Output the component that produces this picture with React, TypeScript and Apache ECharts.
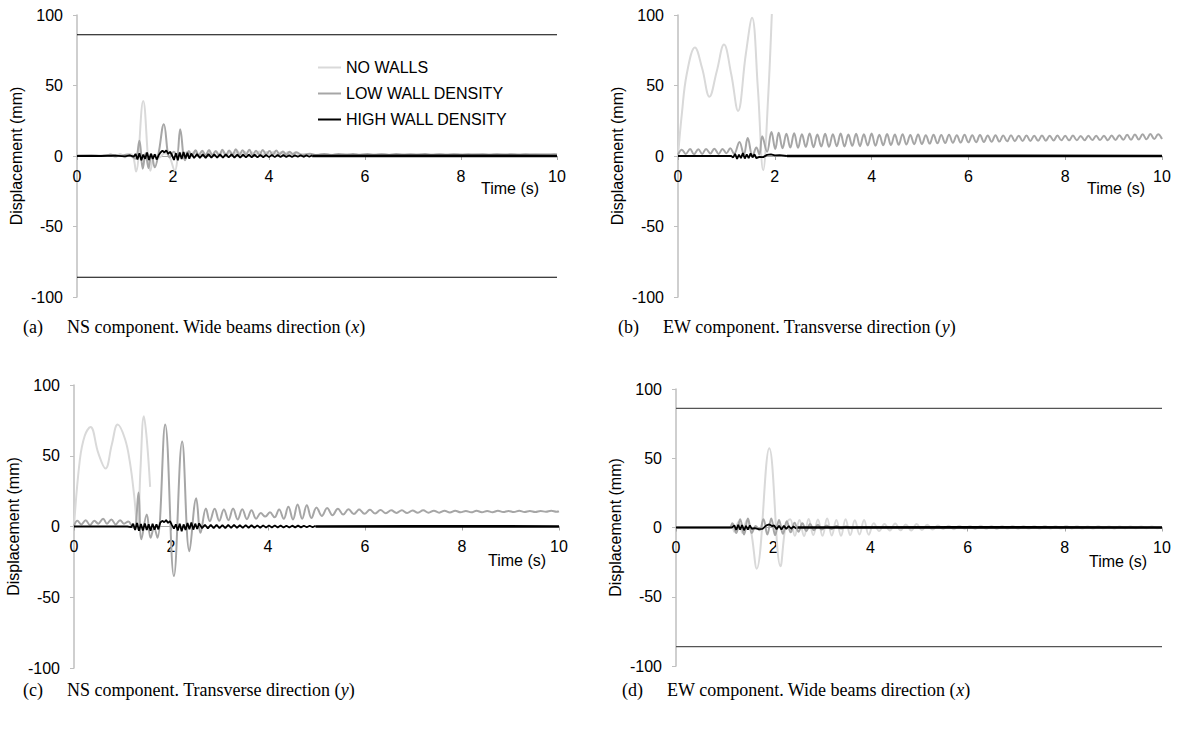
import React, { useEffect, useRef } from 'react';
import * as echarts from 'echarts';

type P = [number, number];
// sampled segment: values read at a fixed time step starting at t0
const seq = (t0: number, dt: number, vals: number[]): P[] =>
  vals.map((v, i) => [Math.round((t0 + i * dt) * 1000) / 1000, v] as P);

const SERIES_NAMES = ['NO WALLS', 'LOW WALL DENSITY', 'HIGH WALL DENSITY'];
const COLORS = ['#d9d9d9', '#a6a6a6', '#000000'];
const LIMIT = 86;

// ---------- Panel (a) ----------
const A_NO_PEAKS: P[] = [[0,0],[0.6,0],[0.7,1.2],[0.8,-0.8],[0.9,1.5],[1.0,-1],[1.1,1.5],[1.17,-0.5],[1.23,-11],[1.38,39],[1.53,-10.4],[1.62,1],[1.72,-1],[1.82,2],[1.92,0],[2.04,-10.4],[2.14,2.5]];
const A_NO_OSC = [0.5,3,0.3,3.2,0.5,2.8,0.8,3.5,0.4,3.0,0.6,3.3,0.7,2.9,0.5,3.4,0.8,3.1,0.6,2.7,0.9,3.2,0.7,2.8,1.0,3.0,0.8,2.6,1.0,2.9,1.1,2.4,1.2];
const A_NO_TAIL = [1.5,0.7,1.4,0.8,1.5,0.7,1.3,0.9,1.4,0.8,1.3,0.9,1.4,0.8,1.3,1.0,1.4,0.9,1.3,1.0,1.4,0.9,1.2,1.0,1.2,1.0,1.2];
const A_LOW_PEAKS: P[] = [[0,0.3],[0.3,0.6],[0.5,0.2],[0.7,0.9],[0.9,0.1],[1.05,1.0],[1.15,-0.5],[1.22,-2],[1.30,10.9],[1.37,-9],[1.43,2],[1.49,-8.5],[1.55,1.5],[1.62,-8],[1.70,2],[1.81,22.5],[1.93,-1],[2.02,3],[2.08,0],[2.15,19],[2.25,-3]];
const A_LOW_OSC = [3.5,0,4,0.5,3.8,0.2,4.2,0.8,3.6,0.5,4.5,0.3,3.9,0.8,4.8,0.6,4.0,1.0,4.4,0.5,3.7,0.9,4.2,1.1,3.5,0.8,3.9,1.2,3.2,0.9,3.0,1.3,2.6];
const A_LOW_TAIL = [0.6,1.6,0.7,1.5,0.6,1.4,0.8,1.5,0.7,1.4,0.8,1.3,0.7,1.4,0.9,1.3,0.8,1.4,0.9,1.2,0.8,1.3,0.9,1.2,1.0,1.3,0.9,1.2,1.0,1.3,0.9,1.2,1.0,1.1,1.0,1.2];
const A_HIGH_PEAKS: P[] = [[0,0],[0.5,0],[0.8,0.3],[1.0,-0.3],[1.1,0.4],[1.18,-0.5]];
const A_HIGH_JIT = [1.5,-2.5,2,-3,1,-2,2.5,-2.8,1.5,-2,1.2,-2.5,0.5,2.5,3.8,2.5,4,1.5,3,0.5,-2.8,2,-3,2.5,-2.2,2.8,-1.8,2.2,-2.0,1.8];
const A_HIGH_JIT2 = [-1.4,1.3,-1.3,1.2,-1.3,1.3,-1.2,1.1,-1.2,1.2,-1.1,1.2,-1.0,1.1,-1.1,1.0,-1.1,1.0,-1.0,1.0,-0.9,0.9,-1.0,0.8,-0.9,0.8,-0.8,0.8,-0.8,0.7,-0.7,0.7,-0.7,0.6,-0.7,0.6,-0.6,0.6,-0.6,0.5,-0.5,0.5];
const A_HIGH_QUIET: P[] = [[4.9,0],[7,0.1],[10,0]];

// ---------- Panel (b) ----------
const B_NO: P[] = [[0,0],[0.08,30],[0.18,58],[0.35,77],[0.5,62],[0.65,42],[0.8,60],[0.95,79],[1.1,58],[1.24,32],[1.4,72],[1.53,98],[1.65,48],[1.76,-10],[1.86,40],[1.95,110],[2.02,170]];
const B_LOW_PEAKS: P[] = [[0,1],[0.08,4.5],[0.16,1.5],[0.25,5],[0.33,1.2],[0.42,4.8],[0.5,1.5],[0.58,5],[0.67,1.8],[0.75,5.2],[0.84,1.5],[0.92,5],[1.0,2],[1.08,5.5],[1.16,1.5],[1.27,10],[1.36,1],[1.44,12.7],[1.54,0],[1.62,6],[1.68,1],[1.74,14],[1.84,3],[1.93,17],[2.01,5]];
const B_LOW_OSC = [
  16.5,5.5,15.8,6,16.2,5.8,15.5,6.5,16,6.2,15.2,6.8,15.8,6.5,
  15.5,7,16,6.8,15.2,7.2,15.8,7,15.4,7.5,15.9,7.2,15.1,7.6,
  15.6,7.8,15.2,8,15.5,8.2,14.9,8.4,15.3,8.5,14.8,8.8,15.1,9,
  14.9,9.2,15.1,9.4,14.8,9.5,15,9.7,14.7,9.8,14.9,10,14.6,10.1,
  14.8,10.2,14.5,10.4,14.7,10.5,14.4,10.6,14.6,10.7,14.4,10.8,14.6,10.9,
  14.3,11,14.5,11.1,14.3,11.1,14.5,11.2,14.2,11.2,14.4,11.3,14.3,11.3,
  14.4,11.2,14.6,11.4,14.8,11.5,15.0,11.5,15.3,11.7,15.4,11.8,15.6,12.0,
  15.5,12.1
];
const B_HIGH_PEAKS: P[] = [[0,0],[1.1,0]];
const B_HIGH_JIT = [-1,1.5,-2,1,-1.5,2,-1.8,1.2,-1.5,1.8,-1,1.2,-1.6];
const B_HIGH_MID: P[] = [[1.68,-0.6],[1.76,-0.8],[1.84,0.8],[1.92,1.2],[2.0,0.4],[2.1,0.6],[2.25,0]];
const B_HIGH_QUIET: P[] = [[2.25,0],[6,0.1],[10,0]];

// ---------- Panel (c) ----------
const C_NO: P[] = [[0,0],[0.12,47],[0.22,64],[0.34,70.4],[0.5,52],[0.65,41],[0.78,58],[0.9,72],[1.05,62],[1.15,46],[1.24,22],[1.31,-2],[1.37,40],[1.44,78],[1.5,62],[1.57,28]];
const C_LOW_PEAKS: P[] = [[0,0.5],[0.07,4],[0.15,1.5],[0.24,4.5],[0.33,1],[0.42,4],[0.5,2],[0.6,5.5],[0.68,2],[0.77,5],[0.86,1.5],[0.95,4.5],[1.03,2],[1.12,3.5],[1.2,0],[1.25,-1],[1.33,24],[1.39,-9],[1.50,8.5],[1.58,-8],[1.65,-1],[1.72,-8],[1.88,72],[2.06,-35],[2.23,60],[2.38,-17.5],[2.52,20],[2.61,-4.5],[2.72,12.8],[2.80,3.8]];
const C_LOW_OSC1 = [12.5,4,12,4.5,12.8,5,12.2,5.2,11.5,5.5,9.5,7,10,6.5,12,5.5,14,5,15.6,5.5,15,6];
const C_LOW_OSC2 = [13.5,7.5,13,8,12.6,8.4,12.2,8.8,12,9,11.8,9.2,11.6,9.4,11.4,9.6,11.5,9.5,11.3,9.7,11.4,9.8,11.2,9.8,11.1,9.9,11.2,10,11,10,11.1,10.1,11,10.1,11.1,10.2,11,10.2,11.1,10.3,11,10.3,11,10.4,11.1,10.4];
const C_HIGH_PEAKS: P[] = [[0,0],[1.1,0],[1.18,-0.5]];
const C_HIGH_JIT = [2,-2.5,2.5,-3,1.8,-2.8,2.2,-2.5,1.5,-3,2,-2.2,1.5,-2,2.8,4,3,4.5,2.5,3.8,1,-1.5,1.5,-2.8,2,-3.3,1.5,-2.5,2.5,-2,2.8,-2.2,2,-1.8,2.2];
const C_HIGH_JIT2 = [-1.2,1.2,-1.3,1.1,-1.2,1.2,-1.1,1.0,-1.2,1.1,-1.0,1.1,-1.0,0.9,-1.0,1.0,-0.9,0.9,-0.9,0.8,-0.9,0.8,-0.8,0.8,-0.7,0.8,-0.7,0.7,-0.7,0.6,-0.7,0.6,-0.6,0.6,-0.6,0.5,-0.5,0.5,-0.5,0.5];
const C_HIGH_QUIET: P[] = [[4.98,0],[7,0.1],[10,0]];

// ---------- Panel (d) ----------
const D_NO_PEAKS: P[] = [[0,0],[1.15,0]];
const D_NO_JIT = [-3,4,-4,5,-2];
const D_NO_BIG: P[] = [[1.66,-29.7],[1.92,57.3],[2.15,-28],[2.26,2]];
const D_NO_OSC1 = [6,-6,5.5,-6.2,6.2,-5.5,5.8,-6,6.5,-5.8,5.5,-6,6,-5.5,5.2,-5,5.5,-5.2];
const D_NO_OSC2 = [3,-2.5,2.5,-2.2,2.8,-2,2.2,-2.2,2.5,-1.8,2,-1.5];
const D_NO_OSC3 = [1.4,-1,1.2,-1.2,1.3,-0.9,1.1,-1,1.2,-0.9,1.0,-1,1.1,-0.8,1.0,-0.9,1.1,-0.8,0.9,-0.8,1.0,-0.7,0.9,-0.8,1.0,-0.7,0.9,-0.7,0.8,-0.7,0.9,-0.6,0.8,-0.7,0.8,-0.6,0.7,-0.6,0.8,-0.5,0.7,-0.5];
const D_LOW: P[] = [[0,0],[1.1,0],[1.16,3],[1.24,-4],[1.32,6],[1.4,-5],[1.48,6.5],[1.56,-4],[1.64,1],[1.72,-2],[1.8,6],[1.88,-5],[1.96,6.5],[2.04,-5.5],[2.12,5.5],[2.2,-4.5],[2.28,4.5],[2.36,-3.5],[2.44,3.5],[2.52,-3],[2.6,3],[2.68,-2.5],[2.76,2.5],[2.84,-2],[2.92,2],[3.0,-1.5],[3.1,1.5],[3.2,-1.2],[3.3,1],[3.4,-0.8],[3.5,0.8],[3.6,-0.5],[3.8,0],[10,0]];
const D_HIGH_PEAKS: P[] = [[0,0],[1.15,0]];
const D_HIGH_JIT = [1.5,-1.8,2,-1.5,1.8,-2,1.2,-1.5,1.5,-1];
const D_HIGH_MID: P[] = [[1.62,-0.5],[1.7,-1.2],[1.78,-1],[1.86,1.5],[1.92,2.2],[1.98,1]];
const D_HIGH_JIT2 = [1.5,-1.2,1.3,-1.5,1.2,-1,1.1,-0.9,0.8,-0.8];
const D_HIGH_QUIET: P[] = [[2.5,0],[6,0.1],[10,0]];

const CAPTIONS = [
  ['(a)', 'NS component. Wide beams direction (', 'x', ')'],
  ['(b)', 'EW component. Transverse direction (', 'y', ')'],
  ['(c)', 'NS component. Transverse direction (', 'y', ')'],
  ['(d)', 'EW component. Wide beams direction (', 'x', ')'],
];

const GRIDS = [
  { left: 77, top: 15, width: 480, height: 282 },
  { left: 678, top: 15, width: 484, height: 282 },
  { left: 74, top: 385, width: 485, height: 283 },
  { left: 676, top: 389, width: 486, height: 277 },
];
const CAPTION_POS = [[23, 67, 327], [618, 663, 327], [23, 67, 690], [622, 667, 690]];
const TIME_POS = [[510, 188], [1116, 188], [517, 560], [1118, 561]];

const SANS = '"Liberation Sans", Arial, sans-serif';
const SERIF = '"Liberation Serif", "Times New Roman", serif';

function line(name: string, gi: number, data: P[], color: string, width: number, smooth: number | boolean) {
  return {
    type: 'line', name, xAxisIndex: gi, yAxisIndex: gi, data,
    symbol: 'none', showSymbol: false, smooth,
    lineStyle: { color, width }, itemStyle: { color },
    emphasis: { disabled: true }, silent: true,
  };
}

export default function App() {
  const ref = useRef<HTMLDivElement>(null);
  useEffect(() => {
    if (!ref.current) return;
    const chart = echarts.init(ref.current, undefined, { renderer: 'svg' });

    const panels: { no: P[]; low: P[]; high: P[]; quiet: P[]; limit: boolean; limColor: string }[] = [
      {
        no: [...A_NO_PEAKS, ...seq(2.22, 0.075, A_NO_OSC), ...seq(4.75, 0.2, A_NO_TAIL), [10, 1.1]],
        low: [...A_LOW_PEAKS, ...seq(2.33, 0.07, A_LOW_OSC), ...seq(4.7, 0.15, A_LOW_TAIL), [10, 1.1]],
        high: [...A_HIGH_PEAKS, ...seq(1.22, 0.04, A_HIGH_JIT), ...seq(2.44, 0.06, A_HIGH_JIT2)],
        quiet: A_HIGH_QUIET, limit: true, limColor: '#000',
      },
      {
        no: B_NO,
        low: [...B_LOW_PEAKS, ...seq(2.08, 0.08, B_LOW_OSC)],
        high: [...B_HIGH_PEAKS, ...seq(1.14, 0.04, B_HIGH_JIT), ...B_HIGH_MID],
        quiet: B_HIGH_QUIET, limit: false, limColor: '#000',
      },
      {
        no: C_NO,
        low: [...C_LOW_PEAKS, ...seq(2.9, 0.095, C_LOW_OSC1), ...seq(5.0, 0.11, C_LOW_OSC2), [10, 10.8]],
        high: [...C_HIGH_PEAKS, ...seq(1.22, 0.04, C_HIGH_JIT), ...seq(2.64, 0.06, C_HIGH_JIT2)],
        quiet: C_HIGH_QUIET, limit: false, limColor: '#000',
      },
      {
        no: [...D_NO_PEAKS, ...seq(1.2, 0.085, D_NO_JIT), ...D_NO_BIG, ...seq(2.35, 0.095, D_NO_OSC1), ...seq(4.07, 0.11, D_NO_OSC2), ...seq(5.39, 0.11, D_NO_OSC3), [10, 0]],
        low: D_LOW,
        high: [...D_HIGH_PEAKS, ...seq(1.2, 0.04, D_HIGH_JIT), ...D_HIGH_MID, ...seq(2.02, 0.05, D_HIGH_JIT2)],
        quiet: D_HIGH_QUIET, limit: true, limColor: '#555',
      },
    ];

    const series: any[] = [];
    panels.forEach((p, gi) => {
      if (p.limit) {
        series.push(line('limit+', gi, [[0, LIMIT], [10, LIMIT]], p.limColor, 1.2, false));
        series.push(line('limit-', gi, [[0, -LIMIT], [10, -LIMIT]], p.limColor, 1.2, false));
      }
      series.push(line(SERIES_NAMES[0], gi, p.no, COLORS[0], 2, 0.4));
      series.push(line(SERIES_NAMES[1], gi, p.low, COLORS[1], 2, 0.4));
      series.push(line(SERIES_NAMES[2], gi, p.high, COLORS[2], 1.8, false));
      series.push(line(SERIES_NAMES[2], gi, p.quiet, COLORS[2], 2.7, false));
    });

    const graphic: any[] = [];
    CAPTIONS.forEach((c, i) => {
      const [x1, x2, y] = CAPTION_POS[i];
      graphic.push({
        type: 'text', x: x1, y, silent: true,
        style: { text: c[0], fontSize: 18, fontFamily: SERIF, fill: '#000', verticalAlign: 'middle' },
      });
      graphic.push({
        type: 'text', x: x2, y, silent: true,
        style: {
          text: c[1] + '{i|' + c[2] + '}' + c[3],
          fontSize: 18, fontFamily: SERIF, fill: '#000', verticalAlign: 'middle',
          rich: { i: { fontStyle: 'italic', fontSize: 18, fontFamily: SERIF, fill: '#000' } },
        },
      });
      const [tx, ty] = TIME_POS[i];
      graphic.push({
        type: 'text', x: tx, y: ty, silent: true,
        style: { text: 'Time (s)', fontSize: 16, fontFamily: SANS, fill: '#000', align: 'center', verticalAlign: 'middle' },
      });
    });

    chart.setOption({
      animation: false,
      backgroundColor: '#ffffff',
      grid: GRIDS.map((g) => ({ ...g, containLabel: false })),
      xAxis: GRIDS.map((g, i) => ({
        type: 'value', gridIndex: i, min: 0, max: 10, interval: 2,
        position: 'bottom', offset: -g.height / 2,
        axisLine: { show: true, onZero: false, lineStyle: { color: '#a6a6a6', width: 1 } },
        axisTick: { show: true, length: 4, lineStyle: { color: '#a6a6a6' } },
        axisLabel: { margin: 12, fontSize: 16, color: '#000', fontFamily: SANS, showMinLabel: true, showMaxLabel: true },
        splitLine: { show: false },
      })),
      yAxis: GRIDS.map((_, i) => ({
        type: 'value', gridIndex: i, min: -100, max: 100, interval: 50,
        axisLine: { show: true, onZero: false, lineStyle: { color: '#bfbfbf', width: 1.5 } },
        axisTick: { show: true, length: 4, lineStyle: { color: '#bfbfbf' } },
        axisLabel: { margin: 14, fontSize: 16, color: '#000', fontFamily: SANS },
        splitLine: { show: false },
        name: 'Displacement (mm)', nameLocation: 'middle', nameGap: 53,
        nameTextStyle: { fontSize: 16, color: '#000', fontFamily: SANS },
      })),
      legend: {
        data: SERIES_NAMES.map((n) => ({ name: n, icon: 'rect' })),
        orient: 'vertical', left: 318, top: 59, padding: 0,
        itemWidth: 23, itemHeight: 2, itemGap: 9, selectedMode: false,
        textStyle: { fontSize: 16, color: '#000', fontFamily: SANS, lineHeight: 17 },
      },
      series,
      graphic,
    });
    return () => chart.dispose();
  }, []);
  return <div ref={ref} style={{ position: 'absolute', left: 0, top: 0, width: 1178, height: 732, background: '#fff' }} />;
}
